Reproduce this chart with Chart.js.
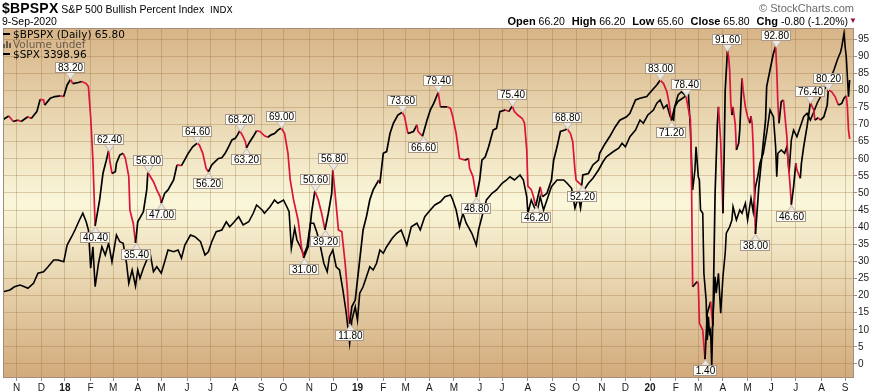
<!DOCTYPE html>
<html lang="en">
<head>
<meta charset="UTF-8">
<title>$BPSPX S&amp;P 500 Bullish Percent Index</title>
<script src="https://cdn.jsdelivr.net/npm/chart.js"></script>
<style>
  body { margin: 0; background: #fff; font-family: "Liberation Sans", Arial, sans-serif; }
  #wrap { position: relative; width: 872px; height: 392px; overflow: hidden; }
  #wrap canvas { position: absolute; left: 0; top: 0; }
  .hdr { position: absolute; white-space: nowrap; color: #000; line-height: 1; }
  #title { left: 2px; top: 1px; font-size: 10.5px; }
  #title b { font-size: 14px; letter-spacing: 0.2px; }
  #title .indx { font-family: "DejaVu Sans", sans-serif; font-size: 9px; margin-left: 3px; }
  #date { left: 2px; top: 16px; font-size: 10.5px; }
  #brand { right: 18px; top: 3px; font-size: 11px; color: #6a6a6a; }
  #quote { right: 24px; top: 16px; font-size: 10.5px; }
  #quote b { font-size: 11px; margin-left: 4px; }
  #quote .dn { position: absolute; right: -9px; top: 1px; color: #8b1538; font-size: 8px; }
  #legend { position: absolute; left: 3px; top: 29px; font-family: "DejaVu Sans", sans-serif; font-size: 10.5px; line-height: 10px; }
  #legend .dash { display: inline-block; width: 7px; height: 2px; background: #000; vertical-align: 3px; margin-right: 3px; }
  #legend .vol { color: #6b5b4b; }
  #legend .bars { display: inline-block; width: 9px; height: 7px; margin-right: 1px; vertical-align: 0; background:
    linear-gradient(#6b5b4b, #6b5b4b) 0 3px / 2px 4px no-repeat,
    linear-gradient(#6b5b4b, #6b5b4b) 3px 0 / 2px 7px no-repeat,
    linear-gradient(#6b5b4b, #6b5b4b) 6px 2px / 2px 5px no-repeat; }
</style>
</head>
<body>
<div id="wrap">
  <canvas id="bpChart" width="872" height="392"></canvas>
  <div class="hdr" id="title"><b>$BPSPX</b> S&amp;P 500 Bullish Percent Index <span class="indx">INDX</span></div>
  <div class="hdr" id="date">9-Sep-2020</div>
  <div class="hdr" id="brand">&copy; StockCharts.com</div>
  <div class="hdr" id="quote"><b>Open</b> 66.20 <b>High</b> 66.20 <b>Low</b> 65.60 <b>Close</b> 65.80 <b>Chg</b> -0.80 (-1.20%)<span class="dn">&#9660;</span></div>
  <div id="legend">
    <div><span class="dash"></span>$BPSPX (Daily) 65.80</div>
    <div class="vol"><span class="bars"></span>Volume undef</div>
    <div><span class="dash"></span>$SPX 3398.96</div>
  </div>
</div>

<script>
// x values are trading-session numbers counted from Mon 16-Oct-2017 (weekdays only)

// $BPSPX (S&P 500 Bullish Percent Index)
const bpX = [0,5,9,13,16,22,25,30,33,36,37,42,46,51,54,57,60,62,67,70,
  74,76,78,80,82,86,89,92,94,95,97,100,101,104,107,109,112,113,116,118,
  120,125,128,129,134,137,140,141,144,147,152,155,159,161,165,169,173,175,178,181,
  183,186,189,192,195,198,201,204,207,209,211,214,216,217,220,223,226,229,233,236,
  239,242,245,248,251,254,256,259,263,266,268,272,275,278,281,284,287,290,293,294,
  296,299,302,305,307,308,309,311,314,316,320,321,324,327,330,335,336,339,342,345,
  348,352,356,358,361,366,369,370,374,378,381,384,388,390,396,399,401,404,407,412,
  415,416,419,422,425,427,430,433,437,440,443,448,451,454,456,459,463,465,467,468,
  471,473,475,479,481,485,489,491,494,497,501,503,506,508,510,511,516,517,522,526,
  531,532,537,541,546,550,556,559,564,568,574,579,583,586,589,592,594,596,599,602,
  605,609,613,614,615,619,620,621,624,626,628,631,633,635,637,638,640,642,643,644,
  646,647,648,649,650,651,653,654,656,657,659,660,662,664,666,667,668,669,671,674,
  677,680,681,684,687,689,690,691,692,694,696,699,700,702,703,705,707,708,711,712,
  714,717,720,723,724,727,729,732,735,736,739,742,745,748,750,752,753,754,755];
const bpY = [71.5,72.5,70.9,71.3,70.9,72.3,71.8,73.8,77.4,77.2,75.7,77.7,78.2,78.4,78.2,81.6,83.2,82.0,82.3,82.6,
  82.0,81.1,72.3,59.6,40.4,48.0,55.8,59.6,62.4,59.6,55.7,56.2,58.7,61.1,61.6,60.1,54.8,45.0,41.1,35.4,
  41.6,44.5,50.9,56.0,53.3,50.9,48.9,47.0,49.9,50.9,53.8,58.2,58.0,59.2,61.6,63.5,64.6,64.0,61.6,57.2,
  56.2,58.2,59.2,60.1,60.3,61.6,63.5,65.5,66.0,67.0,68.2,66.5,65.0,63.2,65.0,66.5,68.2,68.0,66.7,66.3,
  67.0,67.4,68.4,69.0,67.4,61.6,53.8,48.0,42.1,34.3,31.0,34.3,44.1,50.6,48.0,44.1,39.2,44.1,49.9,56.8,
  50.0,39.2,38.7,29.4,21.6,14.8,11.8,16.8,18.7,24.6,36.3,39.2,43.1,48.0,50.9,53.8,52.8,61.6,62.1,67.4,
  70.4,72.8,73.6,72.3,67.4,68.0,69.9,68.0,66.6,71.3,74.3,76.2,79.4,75.2,75.2,74.7,72.3,67.4,60.1,59.6,
  60.1,57.2,54.8,48.8,53.8,59.6,60.6,63.5,68.4,68.9,73.8,74.3,73.8,75.4,73.8,72.8,71.8,70.4,62.6,52.0,
  51.0,48.9,46.2,51.8,48.9,49.9,53.8,59.6,63.5,68.0,68.4,68.8,67.4,65.0,56.7,53.8,52.2,55.3,55.7,58.2,
  59.6,61.6,64.5,66.5,69.4,71.3,72.3,73.3,77.2,77.7,78.2,80.1,81.6,83.0,82.0,79.6,76.2,71.2,75.2,76.8,
  77.5,78.4,71.3,51.8,22.6,24.1,23.6,11.9,9.9,1.4,14.8,18.2,11.0,50.0,70.0,75.2,65.0,44.1,60.0,80.0,
  91.6,90.0,86.0,76.2,72.8,75.2,70.0,62.6,64.5,68.4,83.5,80.1,75.2,72.3,70.4,72.5,70.4,63.5,38.0,51.8,
  61.6,71.3,81.1,86.0,90.8,92.8,86.0,76.2,70.4,76.7,77.2,66.5,59.6,51.8,46.6,51.8,58.7,56.7,54.3,58.7,
  63.5,69.4,76.4,74.3,71.3,72.0,71.3,72.3,75.7,80.2,79.6,78.2,75.7,76.2,77.7,78.4,75.2,68.4,65.8];

// $SPX overlay (own hidden scale)
const spxX = [0,6,10,15,19,22,27,31,36,40,45,49,54,57,61,64,68,71,74,76,
  78,80,82,85,88,91,94,97,101,104,107,110,112,115,118,120,122,125,128,131,
  134,137,141,144,147,152,156,159,162,167,171,176,180,183,186,190,195,199,202,205,
  210,214,219,223,226,231,233,238,242,245,250,253,255,257,260,262,265,268,271,274,
  277,280,283,286,289,291,294,297,300,303,306,309,311,314,316,318,321,324,327,330,
  333,336,339,342,347,351,355,360,364,369,372,376,381,385,390,394,399,401,404,407,
  410,413,418,422,424,427,431,436,440,445,449,452,456,461,464,467,468,471,476,479,
  482,485,489,494,497,500,503,507,510,513,515,517,522,526,531,535,538,544,549,552,
  555,559,564,568,571,575,580,583,586,589,592,595,598,599,602,605,608,611,613,614,
  615,617,618,620,621,622,624,625,627,628,629,630,631,632,633,635,636,638,640,642,
  644,645,648,650,651,654,657,659,662,664,667,669,671,673,675,678,681,684,687,689,
  690,691,694,697,699,701,703,705,708,711,714,717,720,723,726,729,732,735,738,741,
  744,747,748,750,751,752,754,755];
const spxY = [2549,2556,2569,2576,2569,2563,2583,2623,2629,2649,2676,2676,2669,2736,2769,2796,2836,2863,2829,2796,
  2643,2729,2569,2663,2729,2696,2743,2669,2776,2749,2743,2663,2583,2636,2572,2636,2603,2643,2676,2703,
  2629,2649,2623,2669,2716,2709,2716,2683,2736,2776,2769,2749,2696,2709,2749,2789,2796,2829,2809,2823,
  2849,2816,2829,2863,2896,2876,2863,2889,2916,2903,2916,2889,2869,2723,2803,2756,2729,2696,2729,2823,
  2823,2783,2729,2663,2629,2689,2716,2649,2636,2556,2463,2343,2436,2489,2436,2543,2569,2609,2649,2636,
  2663,2716,2703,2729,2763,2783,2796,2736,2809,2823,2796,2849,2876,2896,2909,2929,2936,2916,2876,2809,
  2863,2823,2783,2736,2796,2849,2916,2943,2956,2983,2996,3009,2996,3016,2996,2929,2863,2916,2863,2929,
  2876,2916,2969,2996,2996,2996,2983,2963,2883,2929,2883,2949,2983,3003,3036,3069,3089,3109,3123,3143,
  3129,3169,3196,3236,3223,3256,3276,3303,3316,3283,3296,3249,3236,3289,3336,3349,3336,3356,3196,3076,
  2956,3036,3129,3009,2996,2876,2863,2623,2516,2356,2449,2383,2396,2249,2436,2609,2543,2623,2463,2609,
  2703,2783,2809,2836,2889,2836,2876,2863,2903,2836,2923,2869,2969,3009,3063,3103,3183,3276,3249,3129,
  3009,3103,3116,3103,3129,3028,3156,3196,3169,3209,3249,3263,3236,3268,3303,3329,3356,3376,3403,3436,
  3476,3509,3529,3583,3529,3489,3329,3396];

// labelled turning points of $BPSPX ('a' = box above, 'b' = box below)
const markX = [60,82,94,118,129,141,173,183,211,217,248,268,278,287,294,309,356,374,388,422,
  454,475,503,516,586,596,609,626,646,671,689,703,720,736];
const markY = [83.2,40.4,62.4,35.4,56.0,47.0,64.6,56.2,68.2,63.2,69.0,31.0,50.6,39.2,56.8,11.8,73.6,66.6,79.4,48.8,
  75.4,46.2,68.8,52.2,83.0,71.2,78.4,1.4,91.6,38.0,92.8,46.6,76.4,80.2];
const markSide = ['a','b','a','b','a','b','a','b','a','b','a','b','a','b','a','b','a','b','a','b',
  'a','b','a','b','a','b','a','b','a','b','a','b','a','a'];

const monthLabels = ['N','D','18','F','M','A','M','J','J','A','S','O','N','D','19','F','M','A','M','J','J','A','S',
  'O','N','D','20','F','M','A','M','J','J','A','S'];
const yTicks = [0,5,10,15,20,25,30,35,40,45,50,55,60,65,70,75,80,85,90,95];

const RED = '#dc143c';
const GRID = 'rgba(150, 105, 50, 0.3)';

// session number of the first weekday on/after a date
function sessionOf(y, m, d) {
  const days = Math.round((Date.UTC(y, m - 1, d) - Date.UTC(2017, 9, 16)) / 86400000);
  return Math.floor(days / 7) * 5 + Math.min(days % 7, 5);
}
const monthTicks = monthLabels.map((lbl, k) => {
  const n = 10 + k;
  return sessionOf(2017 + Math.floor(n / 12), (n % 12) + 1, 1);
});

const chartBackground = {
  id: 'chartBackground',
  beforeDraw(chart) {
    const { ctx, chartArea: a } = chart;
    const g = ctx.createLinearGradient(0, a.top, 0, a.bottom);
    g.addColorStop(0, '#d7b487');
    g.addColorStop(0.5, '#faf7da');
    g.addColorStop(1, '#d2aa7b');
    ctx.save();
    ctx.fillStyle = g;
    ctx.fillRect(a.left, a.top, a.width, a.height);
    ctx.restore();
  },
  afterDraw(chart) {
    const { ctx, chartArea: a } = chart;
    ctx.save();
    ctx.strokeStyle = '#a38d7c';
    ctx.lineWidth = 1;
    ctx.strokeRect(a.left + 0.5, a.top + 0.5, a.width - 1, a.height - 1);
    ctx.restore();
  }
};

const peakLabels = {
  id: 'peakLabels',
  afterDatasetsDraw(chart) {
    const { ctx } = chart;
    const xs = chart.scales.x, ys = chart.scales.y;
    ctx.save();
    ctx.font = '10px "Liberation Sans", Arial, sans-serif';
    ctx.textAlign = 'center';
    ctx.textBaseline = 'middle';
    ctx.lineWidth = 1;
    markX.forEach((mx, i) => {
      const px = Math.round(xs.getPixelForValue(mx));
      const py = Math.round(ys.getPixelForValue(markY[i]));
      const up = markSide[i] === 'a';
      const text = markY[i].toFixed(2);
      const w = Math.round(ctx.measureText(text).width) + 5;
      const h = 11;
      const by = up ? py - 6 - h : py + 6;
      const bx = px - Math.round(w / 2);
      // pointer
      const baseY = up ? py - 7 : py + 7;
      ctx.beginPath();
      ctx.moveTo(px + 0.5, py + 0.5);
      ctx.lineTo(px - 4.5, baseY + 0.5);
      ctx.lineTo(px + 5.5, baseY + 0.5);
      ctx.closePath();
      ctx.fillStyle = '#ebe7e1';
      ctx.fill();
      ctx.strokeStyle = '#c2b6a8';
      ctx.stroke();
      // box
      ctx.fillStyle = '#fdfcf7';
      ctx.fillRect(bx, by, w, h);
      ctx.strokeStyle = '#a8998a';
      ctx.strokeRect(bx + 0.5, by + 0.5, w - 1, h - 1);
      ctx.fillStyle = '#000';
      ctx.fillText(text, px + 0.5, by + h / 2 + 0.5);
    });
    ctx.restore();
  }
};

new Chart(document.getElementById('bpChart'), {
  type: 'line',
  data: {
    datasets: [{
      label: '$BPSPX',
      data: bpX.map((x, i) => ({ x: x, y: bpY[i] })),
      yAxisID: 'y',
      borderColor: '#000',
      borderWidth: 1.7,
      pointRadius: 0,
      tension: 0,
      order: 0,
      segment: {
        borderColor: c => c.p1.parsed.y < c.p0.parsed.y ? RED : '#000'
      }
    }, {
      label: '$SPX',
      data: spxX.map((x, i) => ({ x: x, y: spxY[i] })),
      yAxisID: 'spx',
      borderColor: '#000',
      borderWidth: 1.6,
      pointRadius: 0,
      tension: 0,
      order: 1
    }]
  },
  options: {
    responsive: false,
    animation: false,
    devicePixelRatio: 1,
    layout: { padding: { top: 28, left: 3, right: 0, bottom: 0 } },
    plugins: { legend: { display: false }, tooltip: { enabled: false } },
    scales: {
      x: {
        type: 'linear',
        min: -0.2,
        max: 758.9,
        afterBuildTicks: s => { s.ticks = monthTicks.map(v => ({ value: v })); },
        afterFit: s => { s.height = 14; },
        grid: { color: GRID, tickLength: 3, tickColor: '#a38d7c' },
        border: { display: false },
        ticks: {
          autoSkip: false,
          maxRotation: 0,
          padding: 1,
          color: '#1a1a1a',
          font: c => ({ family: '"Liberation Sans", Arial, sans-serif', size: 10,
            weight: /^\d/.test(monthLabels[c.index] || '') ? 'bold' : 'normal' }),
          callback: (v, i) => monthLabels[i]
        }
      },
      y: {
        position: 'right',
        min: -4.1,
        max: 98.25,
        afterBuildTicks: s => { s.ticks = yTicks.map(v => ({ value: v })); },
        afterFit: s => { s.width = 18; },
        grid: { color: GRID, tickLength: 3, tickColor: '#a38d7c' },
        border: { display: false },
        ticks: {
          padding: 1,
          color: '#1a1a1a',
          font: { family: '"Liberation Sans", Arial, sans-serif', size: 10 }
        }
      },
      spx: {
        display: false,
        min: 2204,
        max: 3604
      }
    }
  },
  plugins: [chartBackground, peakLabels]
});
</script>
</body>
</html>
